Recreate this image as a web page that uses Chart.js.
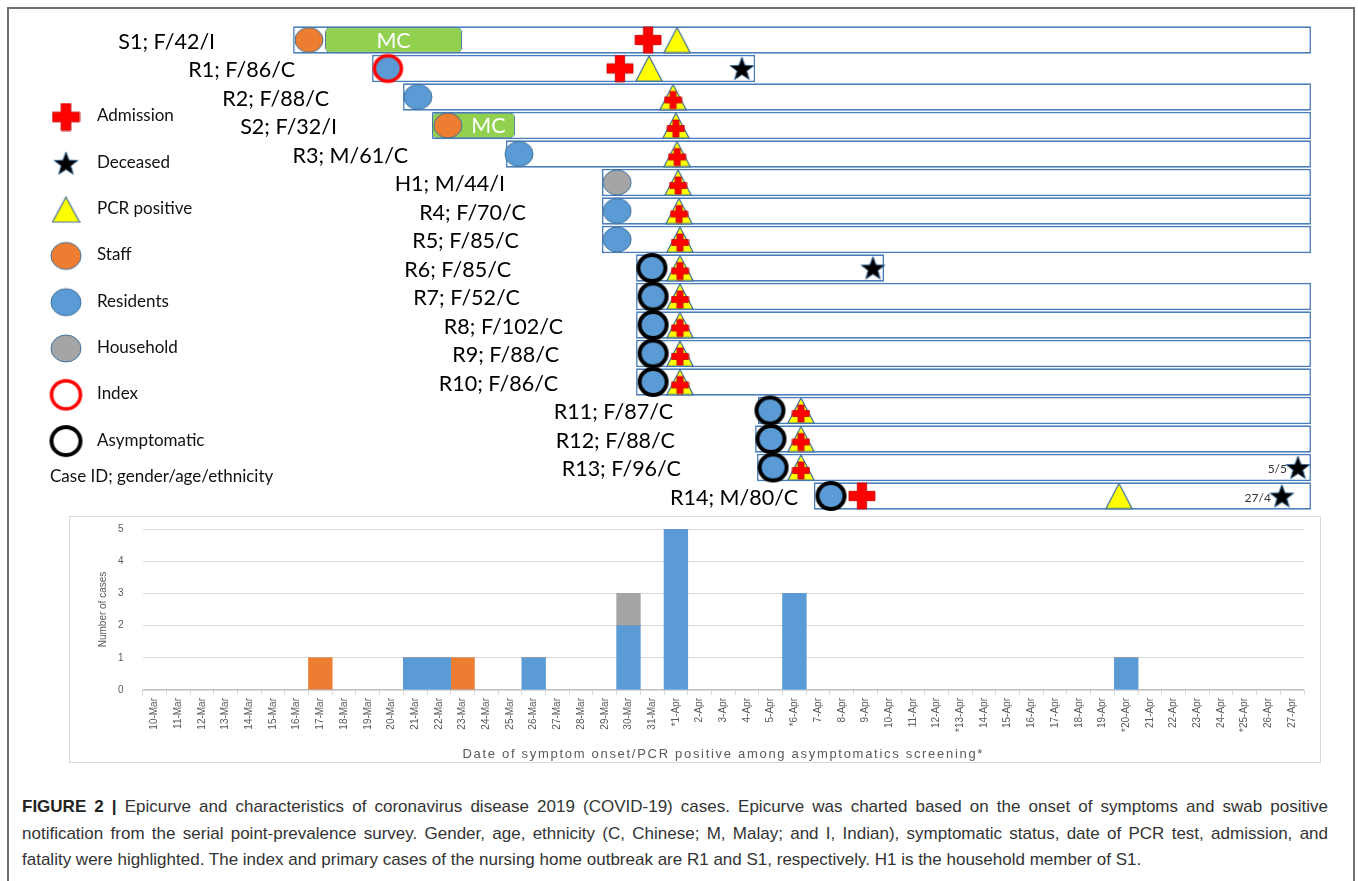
<!DOCTYPE html>
<html>
<head>
<meta charset="utf-8">
<title>Epicurve and characteristics of COVID-19 cases</title>
<script src="https://cdn.jsdelivr.net/npm/chart.js@4.4.1/dist/chart.umd.min.js"></script>
<style>
  html, body { margin: 0; padding: 0; background: #fff; }
  body { width: 1358px; height: 881px; position: relative; overflow: hidden; font-family: 'Liberation Sans', Arial, sans-serif; }
  #frame { position: absolute; left: 7px; top: 7px; width: 1344px; height: 900px; border: 2px solid #707070; border-bottom: none; }
  #timeline { position: absolute; left: 0; top: 0; }
  #curveBox { position: absolute; left: 69px; top: 516px; width: 1250px; height: 245px; border: 1px solid #d9d9d9; }
  #epicurve { position: absolute; left: 69px; top: 516px; }
  #caption { position: absolute; left: 22px; top: 794px; width: 1306px; font-size: 17px; line-height: 26.5px; color: #333; }
  #caption div { white-space: nowrap; text-align: justify; text-align-last: justify; }
  #caption div.last { text-align-last: left; }
  #caption b { color: #222; }
</style>
</head>
<body>
<div id="frame"></div>
<div id="curveBox"></div>
<canvas id="timeline" width="1358" height="520"></canvas>
<canvas id="epicurve" width="1251" height="246"></canvas>
<div id="caption">
  <div><b>FIGURE 2 |</b> Epicurve and characteristics of coronavirus disease 2019 (COVID-19) cases. Epicurve was charted based on the onset of symptoms and swab positive</div>
  <div>notification from the serial point-prevalence survey. Gender, age, ethnicity (C, Chinese; M, Malay; and I, Indian), symptomatic status, date of PCR test, admission, and</div>
  <div class="last">fatality were highlighted. The index and primary cases of the nursing home outbreak are R1 and S1, respectively. H1 is the household member of S1.</div>
</div>
<script>
// ---- timeline data (x in "day of March" units, as drawn; April is compressed in the sketch) ----
const caseIds = ['S1; F/42/I', 'R1; F/86/C', 'R2; F/88/C', 'S2; F/32/I', 'R3; M/61/C', 'H1; M/44/I',
  'R4; F/70/C', 'R5; F/85/C', 'R6; F/85/C', 'R7; F/52/C', 'R8; F/102/C', 'R9; F/88/C', 'R10; F/86/C',
  'R11; F/87/C', 'R12; F/88/C', 'R13; F/96/C', 'R14; M/80/C'];
const caseGroup = ['staff', 'resident', 'resident', 'staff', 'resident', 'household',
  'resident', 'resident', 'resident', 'resident', 'resident', 'resident', 'resident',
  'resident', 'resident', 'resident', 'resident'];
const caseStatus = ['symptomatic', 'index', 'symptomatic', 'symptomatic', 'symptomatic', 'symptomatic',
  'symptomatic', 'symptomatic', 'asymptomatic', 'asymptomatic', 'asymptomatic', 'asymptomatic', 'asymptomatic',
  'asymptomatic', 'asymptomatic', 'asymptomatic', 'asymptomatic'];
const followStart = [16.38, 19.67, 20.96, 22.17, 25.25, 29.25, 29.25, 29.25, 30.67, 30.67, 30.67, 30.67, 30.67, 35.75, 35.63, 35.71, 38.08];
const followEnd = [58.79, 35.63, 58.79, 58.79, 58.79, 58.79, 58.79, 58.79, 41.0, 58.79, 58.79, 58.79, 58.79, 58.79, 58.79, 58.79, 58.79];
const onsetDay = [17.04, 20.33, 21.58, 22.83, 25.79, 29.88, 29.88, 29.88, 31.33, 31.38, 31.38, 31.38, 31.38, 36.25, 36.29, 36.38, 38.79];
const mcFrom = [17.71, null, null, 22.17, null, null, null, null, null, null, null, null, null, null, null, null, null];
const mcTo = [23.42, null, null, 25.63, null, null, null, null, null, null, null, null, null, null, null, null, null];
const pcrDay = [32.38, 31.21, 32.21, 32.33, 32.38, 32.42, 32.46, 32.5, 32.5, 32.5, 32.5, 32.5, 32.5, 37.54, 37.54, 37.54, 50.79];
const admitDay = [31.17, 30.0, 32.21, 32.33, 32.38, 32.42, 32.46, 32.5, 32.5, 32.5, 32.5, 32.5, 32.5, 37.54, 37.54, 37.54, 40.08];
const deathDay = [null, 35.08, null, null, null, null, null, null, 40.54, null, null, null, null, null, null, 58.25, 57.58];
const deathNote = [null, null, null, null, null, null, null, null, null, null, null, null, null, null, null, '5/5', '27/4'];

// where each case label ends (same x units), layout only
const labelEnd = [13.13, 16.46, 17.88, 18.21, 21.17, 25.21, 26.08, 25.79, 25.46, 25.83, 27.63, 27.46, 27.42, 32.21, 32.29, 32.54, 37.42];

const legendLabels = ['Admission', 'Deceased', 'PCR positive', 'Staff', 'Residents', 'Household', 'Index', 'Asymptomatic'];

// ---- epicurve data ----
const dates = ['10-Mar', '11-Mar', '12-Mar', '13-Mar', '14-Mar', '15-Mar', '16-Mar', '17-Mar', '18-Mar', '19-Mar',
  '20-Mar', '21-Mar', '22-Mar', '23-Mar', '24-Mar', '25-Mar', '26-Mar', '27-Mar', '28-Mar', '29-Mar',
  '30-Mar', '31-Mar', '*1-Apr', '2-Apr', '3-Apr', '4-Apr', '5-Apr', '*6-Apr', '7-Apr', '8-Apr',
  '9-Apr', '10-Apr', '11-Apr', '12-Apr', '*13-Apr', '14-Apr', '15-Apr', '16-Apr', '17-Apr', '18-Apr',
  '19-Apr', '*20-Apr', '21-Apr', '22-Apr', '23-Apr', '24-Apr', '*25-Apr', '26-Apr', '27-Apr'];
const residents = [0, 0, 0, 0, 0, 0, 0, 0, 0, 0, 0, 1, 1, 0, 0, 0, 1, 0, 0, 0, 2, 0, 5, 0, 0, 0, 0, 3, 0, 0,
  0, 0, 0, 0, 0, 0, 0, 0, 0, 0, 0, 1, 0, 0, 0, 0, 0, 0, 0];
const staff = [0, 0, 0, 0, 0, 0, 0, 1, 0, 0, 0, 0, 0, 1, 0, 0, 0, 0, 0, 0, 0, 0, 0, 0, 0, 0, 0, 0, 0, 0,
  0, 0, 0, 0, 0, 0, 0, 0, 0, 0, 0, 0, 0, 0, 0, 0, 0, 0, 0];
const household = [0, 0, 0, 0, 0, 0, 0, 0, 0, 0, 0, 0, 0, 0, 0, 0, 0, 0, 0, 0, 1, 0, 0, 0, 0, 0, 0, 0, 0, 0,
  0, 0, 0, 0, 0, 0, 0, 0, 0, 0, 0, 0, 0, 0, 0, 0, 0, 0, 0];

// ---- marker images ----
const BLUE = '#5b9bd5', ORANGE = '#ed7d31', GREY = '#a5a5a5', EDGE = '#41719c';

function makeImg(w, h, draw) {
  const c = document.createElement('canvas');
  c.width = w; c.height = h;
  draw(c.getContext('2d'), w, h);
  return c;
}
function ellipseImg(rx, ry, fill, stroke, lw) {
  const pad = Math.ceil(lw / 2) + 1;
  return makeImg(Math.round(2 * rx + 2 * pad), Math.round(2 * ry + 2 * pad), (g, w, h) => {
    g.beginPath();
    g.ellipse(w / 2, h / 2, rx, ry, 0, 0, Math.PI * 2);
    if (fill) { g.fillStyle = fill; g.fill(); }
    g.lineWidth = lw; g.strokeStyle = stroke; g.stroke();
  });
}
function crossImg(size, dy) {
  return makeImg(size + 2, size + 2 + 2 * dy, (g, w, h) => {
    const cx = w / 2, cy = h / 2 + dy, a = size / 2, t = size * 0.18;
    const pts = [[-t, -a], [t, -a], [t, -t], [a, -t], [a, t], [t, t], [t, a], [-t, a], [-t, t], [-a, t], [-a, -t], [-t, -t]];
    g.beginPath();
    pts.forEach((p, i) => i ? g.lineTo(cx + p[0], cy + p[1]) : g.moveTo(cx + p[0], cy + p[1]));
    g.closePath();
    g.fillStyle = '#ff0000'; g.fill();
    g.lineWidth = 0.8; g.strokeStyle = '#c00000'; g.stroke();
  });
}
function triImg(tw, th) {
  return makeImg(tw + 2, th + 2, (g, w, h) => {
    g.beginPath();
    g.moveTo(w / 2, 1); g.lineTo(w - 1, h - 1); g.lineTo(1, h - 1); g.closePath();
    g.fillStyle = '#ffff00'; g.fill();
    g.lineWidth = 1.2; g.strokeStyle = EDGE; g.stroke();
  });
}
function starImg(R, r) {
  return makeImg(2 * R + 4, 2 * R + 4, (g, w, h) => {
    g.beginPath();
    for (let i = 0; i < 10; i++) {
      const ang = -Math.PI / 2 + i * Math.PI / 5, rad = i % 2 ? r : R;
      const px = w / 2 + rad * Math.cos(ang), py = h / 2 + 1 + rad * Math.sin(ang);
      i ? g.lineTo(px, py) : g.moveTo(px, py);
    }
    g.closePath();
    g.fillStyle = '#000'; g.fill();
    g.lineWidth = 1; g.strokeStyle = EDGE; g.stroke();
  });
}

const onsetImgs = {
  staff: ellipseImg(14, 12.5, ORANGE, EDGE, 1),
  resident: ellipseImg(14, 12.5, BLUE, EDGE, 1),
  household: ellipseImg(14, 12.5, GREY, EDGE, 1),
  index: ellipseImg(13.5, 12.8, BLUE, '#ff0000', 3.5),
  asymptomatic: ellipseImg(13.5, 13, BLUE, '#000000', 4)
};
function onsetImage(i) {
  return caseStatus[i] === 'symptomatic' ? onsetImgs[caseGroup[i]] : onsetImgs[caseStatus[i]];
}
const bigCross = crossImg(26, 0);
const smallCross = crossImg(17, 3);
const triangle = triImg(26, 25);
const star = starImg(12.5, 5.2);

const legendIcons = [
  crossImg(27, 0), starImg(12.5, 5.2), triImg(27, 25),
  ellipseImg(15, 13.5, ORANGE, EDGE, 1), ellipseImg(15, 13.5, BLUE, EDGE, 1), ellipseImg(15, 13.5, GREY, EDGE, 1),
  ellipseImg(14.5, 14, null, '#ff0000', 3.5), ellipseImg(14.5, 14, null, '#000000', 4)
];

// text drawn on top of the timeline: case labels, MC, death dates, key
const timelineText = {
  id: 'timelineText',
  afterDatasetsDraw(chart) {
    const ctx = chart.ctx, xs = chart.scales.x, ys = chart.scales.y;
    ctx.save();
    ctx.fillStyle = '#000';
    ctx.font = '21.5px Lato, "Open Sans", sans-serif';
    ctx.textAlign = 'right';
    ctx.textBaseline = 'middle';
    caseIds.forEach((id, i) => {
      ctx.fillText(id, xs.getPixelForValue(labelEnd[i]), ys.getPixelForValue(i) + 2);
    });

    const mcMeta = chart.getDatasetMeta(1);
    ctx.fillStyle = '#fff';
    ctx.textAlign = 'center';
    mcMeta.data.forEach((el, i) => {
      if (mcFrom[i] === null) return;
      const left = Math.max(el.base, xs.getPixelForValue(onsetDay[i]) + 14);
      ctx.fillText('MC', (left + el.x) / 2, el.y + 1);
    });

    ctx.fillStyle = '#333';
    ctx.font = '12px Lato, sans-serif';
    ctx.textAlign = 'right';
    deathNote.forEach((note, i) => {
      if (!note) return;
      ctx.fillText(note, xs.getPixelForValue(deathDay[i]) - 11, ys.getPixelForValue(i) + 2);
    });

    ctx.fillStyle = '#111';
    ctx.font = '17px Lato, sans-serif';
    ctx.textAlign = 'left';
    legendLabels.forEach((lab, i) => {
      const y = 116 + i * 46.3;
      const img = legendIcons[i];
      ctx.drawImage(img, 66 - img.width / 2, y + 1 - img.height / 2);
      ctx.fillText(lab, 97, y);
    });
    ctx.fillText('Case ID; gender/age/ethnicity', 50, 477);
    ctx.restore();
  }
};

const rowPoints = (xs) => caseIds.map((id, i) => ({ x: xs[i], y: id }));

new Chart(document.getElementById('timeline'), {
  type: 'bar',
  data: {
    labels: caseIds,
    datasets: [
      {
        label: 'Follow-up', indexAxis: 'y', order: 10,
        data: caseIds.map((id, i) => [followStart[i], followEnd[i]]),
        backgroundColor: '#ffffff', borderColor: '#4a7ebb', borderWidth: 1.6, borderSkipped: false,
        grouped: false, barPercentage: 0.96, categoryPercentage: 1
      },
      {
        label: 'MC', indexAxis: 'y', order: 9,
        data: caseIds.map((id, i) => mcFrom[i] === null ? null : [mcFrom[i], mcTo[i]]),
        backgroundColor: '#92d050', borderColor: EDGE, borderWidth: 1, borderRadius: 5, borderSkipped: false,
        grouped: false, barPercentage: 0.9, categoryPercentage: 1
      },
      {
        type: 'scatter', label: 'Onset', order: 3,
        data: rowPoints(onsetDay),
        pointStyle: (c) => onsetImage(c.dataIndex)
      },
      {
        type: 'scatter', label: 'PCR positive', order: 2,
        data: rowPoints(pcrDay),
        pointStyle: triangle
      },
      {
        type: 'scatter', label: 'Admission', order: 1,
        data: rowPoints(admitDay),
        pointStyle: (c) => admitDay[c.dataIndex] === pcrDay[c.dataIndex] ? smallCross : bigCross
      },
      {
        type: 'scatter', label: 'Deceased', order: 0,
        data: rowPoints(deathDay).filter(p => p.x !== null),
        pointStyle: star
      }
    ]
  },
  options: {
    responsive: false,
    animation: false,
    events: [],
    layout: { padding: { left: 188, right: 18, top: 25.75, bottom: 9.75 } },
    scales: {
      x: { type: 'linear', min: 12, max: 60, offset: false, display: false },
      y: { type: 'category', offset: true, display: false }
    },
    plugins: { legend: { display: false }, tooltip: { enabled: false } }
  },
  plugins: [timelineText]
});

// ---- epicurve ----
Chart.defaults.font.family = "'Liberation Sans', Arial, sans-serif";

// the original axis title is letter-spaced; widen it a little
const spacedTitle = {
  id: 'spacedTitle',
  afterLayout(chart) {
    const sc = chart.scales.x;
    if (sc._spaced) return;
    const baseDraw = sc.drawTitle;
    sc.drawTitle = function () {
      this.ctx.letterSpacing = '1.7px';
      baseDraw.apply(this, arguments);
      this.ctx.letterSpacing = '0px';
    };
    sc._spaced = true;
  }
};

new Chart(document.getElementById('epicurve'), {
  type: 'bar',
  data: {
    labels: dates,
    datasets: [
      { label: 'Residents', data: residents, backgroundColor: BLUE },
      { label: 'Staff', data: staff, backgroundColor: ORANGE },
      { label: 'Household', data: household, backgroundColor: GREY }
    ]
  },
  options: {
    responsive: false,
    animation: false,
    events: [],
    datasets: { bar: { barPercentage: 1, categoryPercentage: 1 } },
    layout: { padding: { left: 0, right: 16, top: 13, bottom: 0 } },
    scales: {
      x: {
        stacked: true,
        grid: { offset: true, drawOnChartArea: false, color: '#d9d9d9', tickLength: 5 },
        border: { color: '#d9d9d9' },
        ticks: { autoSkip: false, minRotation: 90, maxRotation: 90, padding: 3, color: '#595959', font: { size: 10 } },
        title: {
          display: true, text: 'Date of symptom onset/PCR positive among asymptomatics screening*',
          color: '#595959', font: { size: 13 }, padding: { top: 9, bottom: 0 }
        },
        afterFit(s) { s.height = 72; s.paddingLeft = 0; s.paddingRight = 0; }
      },
      y: {
        stacked: true, min: 0, max: 5,
        ticks: { stepSize: 1, padding: 19, color: '#595959', font: { size: 10 } },
        grid: { color: '#d9d9d9', drawTicks: false },
        border: { display: false },
        title: { display: true, text: 'Number of cases', color: '#595959', font: { size: 10 }, padding: { top: 28, bottom: 0 } },
        afterFit(s) { s.width = 73.6; s.paddingTop = 0; s.paddingBottom = 0; }
      }
    },
    plugins: { legend: { display: false }, tooltip: { enabled: false } }
  },
  plugins: [spacedTitle]
});
</script>
</body>
</html>
